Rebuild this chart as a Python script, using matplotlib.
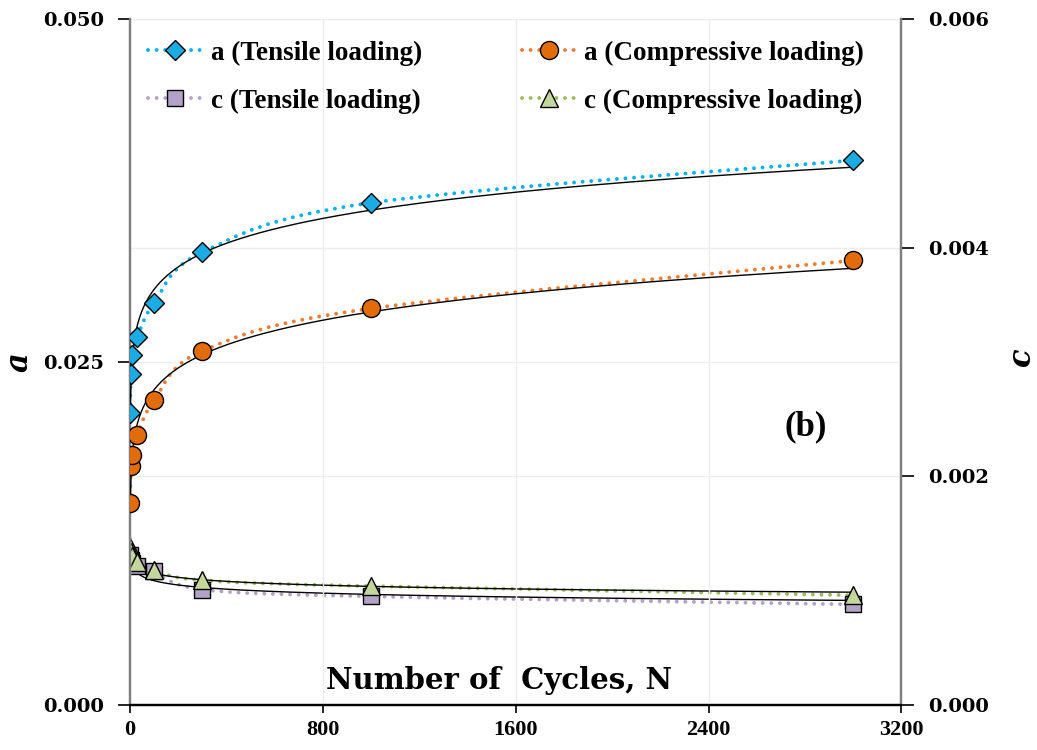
import numpy as np
import matplotlib.pyplot as plt
from matplotlib.path import Path
from matplotlib.patches import PathPatch
from matplotlib.lines import Line2D

# data
cycles = [1, 3, 10, 30, 100, 300, 1000, 3000]
a_tensile = [0.0213, 0.0241, 0.0255, 0.0268, 0.0293, 0.0330, 0.0366, 0.0397]
a_compressive = [0.0147, 0.0174, 0.0182, 0.0197, 0.0222, 0.0258, 0.0289, 0.0324]
c_tensile = [0.00131, 0.00127, 0.00124, 0.00122, 0.00117, 0.00101, 0.00095, 0.00088]
c_compressive = [0.00138, 0.00134, 0.00130, 0.00125, 0.00118, 0.00109, 0.00104, 0.00096]

x_ticks = [0, 800, 1600, 2400, 3200]
a_ticks = [0.0, 0.025, 0.05]
c_ticks = [0.0, 0.002, 0.004, 0.006]

DOTS = (0, (0.01, 2.2))


def smooth_path(xs, ys):
    # excel style smoothed line (catmull-rom as cubic bezier)
    pts = np.column_stack([xs, ys]).astype(float)
    n = len(pts)
    verts = [pts[0]]
    codes = [Path.MOVETO]
    for i in range(n - 1):
        p0 = pts[max(i - 1, 0)]
        p1 = pts[i]
        p2 = pts[i + 1]
        p3 = pts[min(i + 2, n - 1)]
        verts += [p1 + (p2 - p0) / 6, p2 - (p3 - p1) / 6, p2]
        codes += [Path.CURVE4] * 3
    return Path(verts, codes)


def draw_series(ax, ys, line_col, face, marker, ms, label):
    ax.add_patch(PathPatch(smooth_path(cycles, ys), fill=False, edgecolor=line_col,
                           lw=2.8, linestyle=DOTS, capstyle='round', zorder=2))
    # power trendline
    k, b = np.polyfit(np.log(cycles), np.log(ys), 1)
    xf = np.linspace(cycles[0], cycles[-1], 800)
    ax.plot(xf, np.exp(b) * xf ** k, color='black', lw=1.0, zorder=3)
    ax.plot(cycles, ys, linestyle='none', marker=marker, ms=ms, mfc=face,
            mec='black', mew=1.0, zorder=4)
    return Line2D([], [], color=line_col, lw=2.8, linestyle=DOTS,
                  dash_capstyle='round', marker=marker, ms=ms, mfc=face,
                  mec='black', mew=1.0, label=label)


fig = plt.figure(figsize=(10.37, 7.5), dpi=100)
ax = fig.add_axes([0.1254, 0.06, 0.7439, 0.9147])
ax2 = ax.twinx()
ax.set_zorder(ax2.get_zorder() + 1)
ax.patch.set_visible(False)

h1 = draw_series(ax, a_tensile, '#00B0F0', '#1CACE4', 'D', 10, 'a (Tensile loading)')
h2 = draw_series(ax, a_compressive, '#ED7D31', '#E36C0A', 'o', 13, 'a (Compressive loading)')
h3 = draw_series(ax2, c_tensile, '#B3A2C7', '#B3A2C7', 's', 12, 'c (Tensile loading)')
h4 = draw_series(ax2, c_compressive, '#9BBB59', '#C3D69B', '^', 12.5, 'c (Compressive loading)')

ax.set_xlim(0, 3200)
ax.set_ylim(0, 0.05)
ax2.set_ylim(0, 0.006)
ax.set_xticks(x_ticks)
ax.set_yticks(a_ticks)
ax2.set_yticks(c_ticks)
ax.set_yticklabels(['%.3f' % v for v in a_ticks])
ax2.set_yticklabels(['%.3f' % v for v in c_ticks])

for t in ax.get_xticklabels():
    t.set_fontfamily('Liberation Serif')
    t.set_fontweight('bold')
    t.set_fontsize(16)
for t in ax.get_yticklabels() + ax2.get_yticklabels():
    t.set_fontfamily('DejaVu Serif')
    t.set_fontweight('bold')
    t.set_fontsize(14)

ax.grid(True, color='#EDEDED', lw=1.0)
ax2.grid(True, axis='y', color='#EDEDED', lw=1.0)
ax.set_axisbelow(True)
ax2.set_axisbelow(True)

for a_ in (ax, ax2):
    a_.spines['top'].set_visible(False)
    a_.spines['left'].set_color('#7F7F7F')
    a_.spines['right'].set_color('#7F7F7F')
    a_.spines['left'].set_linewidth(1.6)
    a_.spines['right'].set_linewidth(1.6)
    a_.spines['bottom'].set_linewidth(1.6)
ax.tick_params(axis='y', direction='out', length=9, width=1.2, pad=10)
ax2.tick_params(axis='y', direction='out', length=9, width=1.2, pad=10)
ax.tick_params(axis='x', direction='out', length=6, width=1.2, pad=5)

fig.text(0.018, 0.517, 'a', rotation=90, ha='center', va='center',
         fontfamily='DejaVu Serif', fontweight='bold', style='italic', fontsize=22)
fig.text(0.985, 0.525, 'c', rotation=90, ha='center', va='center',
         fontfamily='DejaVu Serif', fontweight='bold', style='italic', fontsize=22)

ax.text(0.478, 0.036, 'Number of  Cycles, N', transform=ax.transAxes, ha='center',
        va='center', fontfamily='DejaVu Serif', fontweight='bold', fontsize=21)
ax.text(0.876, 0.405, '(b)', transform=ax.transAxes, ha='center', va='center',
        fontfamily='Liberation Serif', fontweight='bold', fontsize=25)

leg = ax.legend(handles=[h1, h3, h2, h4], ncol=2, frameon=False, loc='upper left',
                bbox_to_anchor=(-0.008, 1.004), handlelength=2.0, handletextpad=0.3,
                columnspacing=3.7, labelspacing=0.85,
                prop={'family': 'Liberation Serif', 'weight': 'bold', 'size': 19.5})

fig.savefig('out.png', dpi=100)
